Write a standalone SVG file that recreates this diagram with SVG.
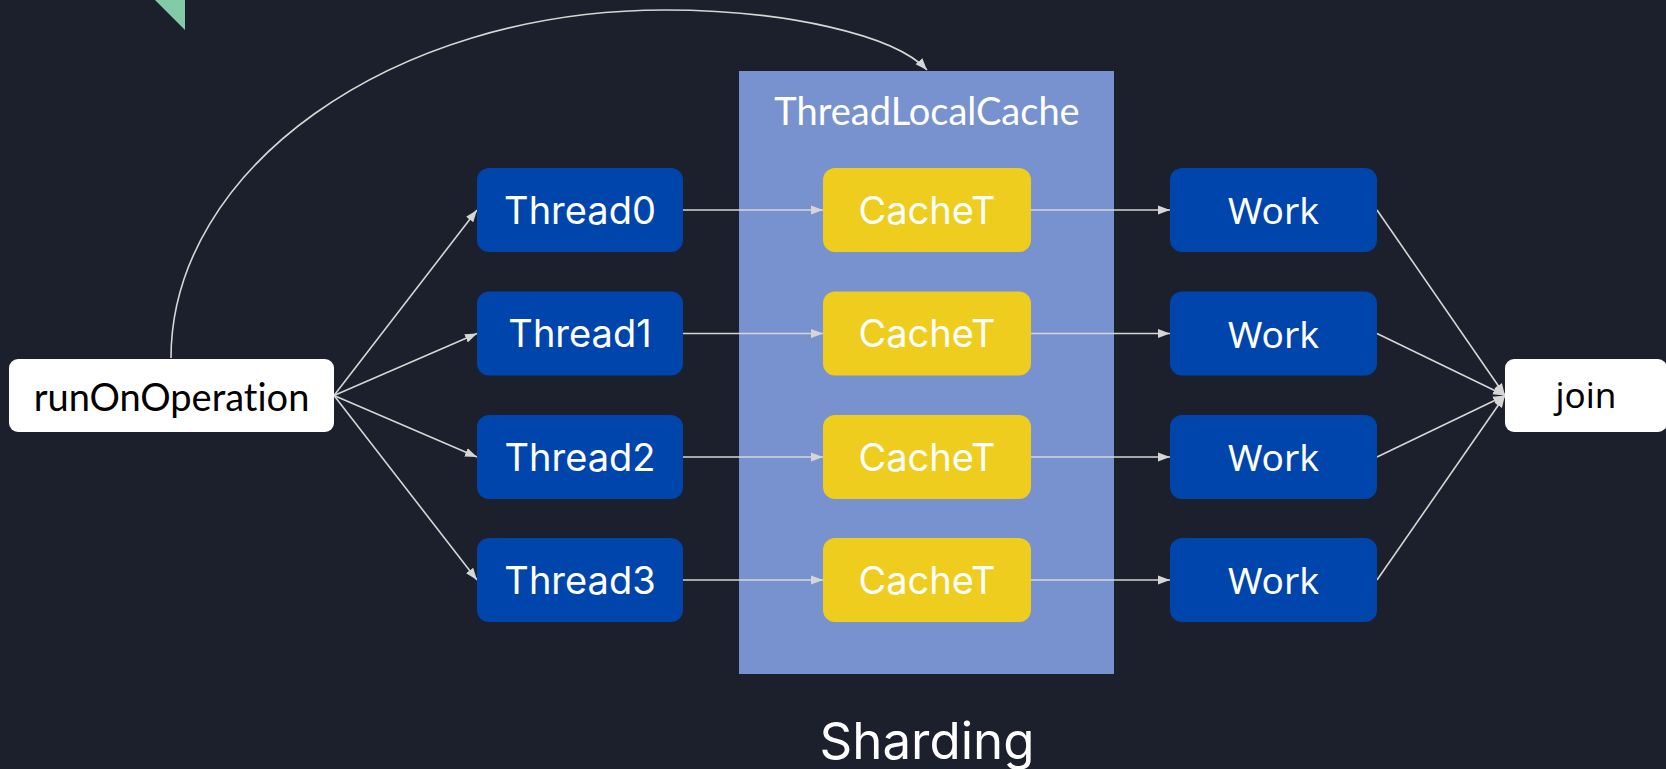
<svg xmlns="http://www.w3.org/2000/svg" width="1666" height="769" viewBox="0 0 1666 769">
<defs>
<marker id="ah" viewBox="0 0 12 10" refX="12" refY="5" markerWidth="12" markerHeight="10" markerUnits="userSpaceOnUse" orient="auto">
<path d="M0,0.5 L12,5 L0,9.5 Z" fill="#d6d6d6"/>
</marker>
<style>
.edge{fill:none;stroke:#d6d6d6;stroke-width:1.6;marker-end:url(#ah)}
.blue{fill:#0045ab}
.yel{fill:#eecd1e}
.wht{fill:#ffffff}
.tin{font-family:Inter,"Liberation Sans",sans-serif;font-size:38px;fill:#ffffff;text-anchor:middle}
.tns{font-family:"Noto Sans","Open Sans",sans-serif;font-size:37px;fill:#ffffff;text-anchor:middle}
.tla{font-family:Lato,"Liberation Sans",sans-serif;font-size:38px;text-anchor:middle;font-variant-ligatures:none}
</style>
</defs>
<rect width="1666" height="769" fill="#1b202c"/>
<polygon points="155,0 185,0 185,30" fill="#82caa8"/>
<g id="container">
<rect x="739" y="71" width="375" height="603" fill="#7892cf"/>
<text x="927" y="125" class="tla" style="fill:#ffffff">ThreadLocalCache</text>
</g>
<g id="connectors">
<path class="edge" d="M171,358 C171,170 390,10 665,10 C785,10 895,35 927,70"/>
<path class="edge" d="M334,395.5 L477,210"/>
<path class="edge" d="M334,395.5 L477,333.5"/>
<path class="edge" d="M334,395.5 L477,457"/>
<path class="edge" d="M334,395.5 L477,580"/>
<path class="edge" d="M683,210 L823,210"/>
<path class="edge" d="M683,333.5 L823,333.5"/>
<path class="edge" d="M683,457 L823,457"/>
<path class="edge" d="M683,580 L823,580"/>
<path class="edge" d="M1031,210 L1170,210"/>
<path class="edge" d="M1031,333.5 L1170,333.5"/>
<path class="edge" d="M1031,457 L1170,457"/>
<path class="edge" d="M1031,580 L1170,580"/>
<path class="edge" d="M1377,210 L1505,395.5"/>
<path class="edge" d="M1377,333.5 L1505,395.5"/>
<path class="edge" d="M1377,457 L1505,395.5"/>
<path class="edge" d="M1377,580 L1505,395.5"/>
</g>
<g id="runOnOperation">
<rect x="9" y="359" width="325" height="73" rx="9" class="wht"/>
<text x="171.5" y="410.5" class="tla" style="fill:#000000">runOnOperation</text>
</g>
<g id="thread0"><rect x="477" y="168" width="206" height="84" rx="12" class="blue"/><text x="580" y="223.5" class="tin">Thread0</text></g>
<g id="thread1"><rect x="477" y="291.5" width="206" height="84" rx="12" class="blue"/><text x="580" y="347" class="tin">Thread1</text></g>
<g id="thread2"><rect x="477" y="415" width="206" height="84" rx="12" class="blue"/><text x="580" y="470.5" class="tin">Thread2</text></g>
<g id="thread3"><rect x="477" y="538" width="206" height="84" rx="12" class="blue"/><text x="580" y="593.5" class="tin">Thread3</text></g>
<g id="cache0"><rect x="823" y="168" width="208" height="84" rx="12" class="yel"/><text x="927" y="223.5" class="tin">CacheT</text></g>
<g id="cache1"><rect x="823" y="291.5" width="208" height="84" rx="12" class="yel"/><text x="927" y="347" class="tin">CacheT</text></g>
<g id="cache2"><rect x="823" y="415" width="208" height="84" rx="12" class="yel"/><text x="927" y="470.5" class="tin">CacheT</text></g>
<g id="cache3"><rect x="823" y="538" width="208" height="84" rx="12" class="yel"/><text x="927" y="593.5" class="tin">CacheT</text></g>
<g id="work0"><rect x="1170" y="168" width="207" height="84" rx="12" class="blue"/><text x="1273.5" y="224" class="tns">Work</text></g>
<g id="work1"><rect x="1170" y="291.5" width="207" height="84" rx="12" class="blue"/><text x="1273.5" y="347.5" class="tns">Work</text></g>
<g id="work2"><rect x="1170" y="415" width="207" height="84" rx="12" class="blue"/><text x="1273.5" y="471" class="tns">Work</text></g>
<g id="work3"><rect x="1170" y="538" width="207" height="84" rx="12" class="blue"/><text x="1273.5" y="594" class="tns">Work</text></g>
<g id="join">
<rect x="1505" y="359" width="162" height="73" rx="9" class="wht"/>
<text x="1586" y="408" class="tns" style="fill:#000000;font-size:35px">join</text>
</g>
<text x="927" y="759" style="font-family:Inter,'Liberation Sans',sans-serif;font-size:51px;fill:#ffffff;text-anchor:middle">Sharding</text>
</svg>
